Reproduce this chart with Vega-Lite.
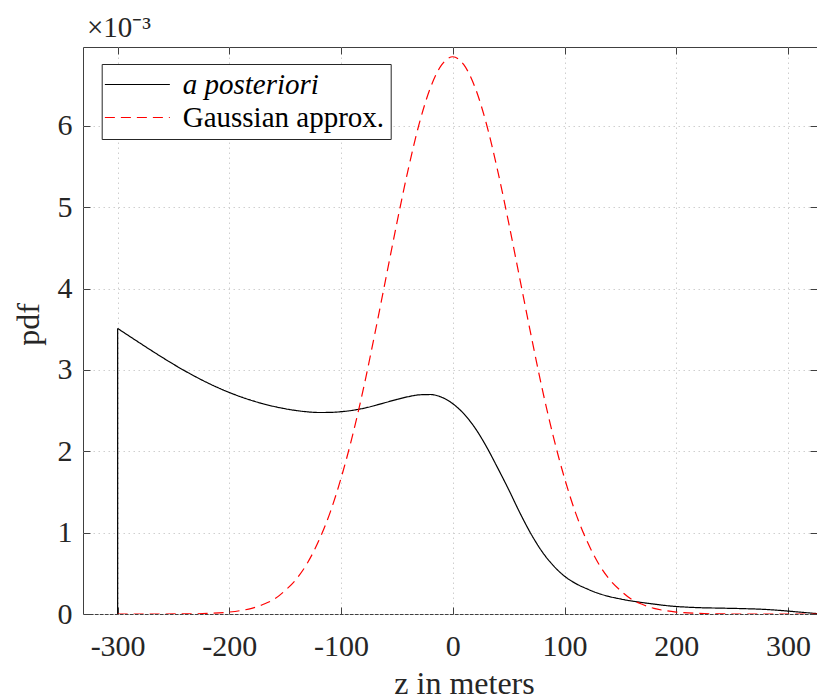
{
  "$schema": "https://vega.github.io/schema/vega-lite/v6.json",
  "width": 734,
  "height": 567,
  "autosize": {"type": "none"},
  "padding": {"left": 83, "top": 47, "right": 0, "bottom": 86},
  "background": "white",
  "config": {
    "view": {"stroke": "#404040", "strokeWidth": 1},
    "font": "Liberation Serif"
  },
  "title": {
    "text": "×10⁻³",
    "anchor": "start",
    "frame": "group",
    "fontSize": 29,
    "font": "Liberation Serif",
    "fontWeight": "normal",
    "color": "#262626",
    "baseline": "alphabetic",
    "offset": -19,
    "dx": 4
  },
  "datasets": {
    "post": [
      {"z": -300, "pdf": 3.51}, {"z": -290, "pdf": 3.42}, {"z": -280, "pdf": 3.33},
      {"z": -270, "pdf": 3.241}, {"z": -260, "pdf": 3.154}, {"z": -250, "pdf": 3.07},
      {"z": -240, "pdf": 2.99}, {"z": -230, "pdf": 2.915}, {"z": -220, "pdf": 2.845},
      {"z": -210, "pdf": 2.781}, {"z": -200, "pdf": 2.723}, {"z": -190, "pdf": 2.671},
      {"z": -180, "pdf": 2.625}, {"z": -170, "pdf": 2.585}, {"z": -160, "pdf": 2.551},
      {"z": -150, "pdf": 2.523}, {"z": -140, "pdf": 2.501}, {"z": -130, "pdf": 2.485},
      {"z": -120, "pdf": 2.477}, {"z": -110, "pdf": 2.478}, {"z": -100, "pdf": 2.487},
      {"z": -90, "pdf": 2.503}, {"z": -80, "pdf": 2.528}, {"z": -70, "pdf": 2.562},
      {"z": -60, "pdf": 2.600}, {"z": -50, "pdf": 2.638}, {"z": -40, "pdf": 2.671},
      {"z": -30, "pdf": 2.694}, {"z": -20, "pdf": 2.698}, {"z": -10, "pdf": 2.665},
      {"z": 0, "pdf": 2.585}, {"z": 10, "pdf": 2.46}, {"z": 20, "pdf": 2.285},
      {"z": 30, "pdf": 2.06}, {"z": 40, "pdf": 1.80}, {"z": 50, "pdf": 1.53},
      {"z": 60, "pdf": 1.245}, {"z": 70, "pdf": 0.985}, {"z": 80, "pdf": 0.765},
      {"z": 90, "pdf": 0.595}, {"z": 100, "pdf": 0.465}, {"z": 110, "pdf": 0.375},
      {"z": 120, "pdf": 0.31}, {"z": 130, "pdf": 0.255}, {"z": 140, "pdf": 0.215},
      {"z": 150, "pdf": 0.185}, {"z": 160, "pdf": 0.16}, {"z": 170, "pdf": 0.14},
      {"z": 180, "pdf": 0.122}, {"z": 190, "pdf": 0.105}, {"z": 200, "pdf": 0.092},
      {"z": 210, "pdf": 0.084}, {"z": 220, "pdf": 0.078}, {"z": 240, "pdf": 0.072},
      {"z": 260, "pdf": 0.066}, {"z": 280, "pdf": 0.056}, {"z": 290, "pdf": 0.047},
      {"z": 300, "pdf": 0.036}, {"z": 310, "pdf": 0.024}, {"z": 320, "pdf": 0.012},
      {"z": 326, "pdf": 0.005}
    ],
    "edge": [
      {"z": -300, "lo": 0, "hi": 3.51}
    ],
    "gauss": [
      {"z": -300, "pdf": 0}, {"z": -280, "pdf": 0}, {"z": -260, "pdf": 0},
      {"z": -240, "pdf": 0.001}, {"z": -220, "pdf": 0.007}, {"z": -200, "pdf": 0.024},
      {"z": -190, "pdf": 0.042}, {"z": -180, "pdf": 0.07}, {"z": -170, "pdf": 0.116},
      {"z": -160, "pdf": 0.18}, {"z": -150, "pdf": 0.29}, {"z": -140, "pdf": 0.43},
      {"z": -130, "pdf": 0.63}, {"z": -120, "pdf": 0.90}, {"z": -110, "pdf": 1.24},
      {"z": -100, "pdf": 1.67}, {"z": -90, "pdf": 2.18}, {"z": -80, "pdf": 2.77},
      {"z": -70, "pdf": 3.43}, {"z": -60, "pdf": 4.12}, {"z": -50, "pdf": 4.81},
      {"z": -40, "pdf": 5.46}, {"z": -30, "pdf": 6.03}, {"z": -20, "pdf": 6.47},
      {"z": -10, "pdf": 6.75}, {"z": 0, "pdf": 6.85}, {"z": 10, "pdf": 6.75},
      {"z": 20, "pdf": 6.47}, {"z": 30, "pdf": 6.03}, {"z": 40, "pdf": 5.46},
      {"z": 50, "pdf": 4.81}, {"z": 60, "pdf": 4.12}, {"z": 70, "pdf": 3.43},
      {"z": 80, "pdf": 2.77}, {"z": 90, "pdf": 2.18}, {"z": 100, "pdf": 1.67},
      {"z": 110, "pdf": 1.24}, {"z": 120, "pdf": 0.90}, {"z": 130, "pdf": 0.63},
      {"z": 140, "pdf": 0.43}, {"z": 150, "pdf": 0.29}, {"z": 160, "pdf": 0.18},
      {"z": 170, "pdf": 0.116}, {"z": 180, "pdf": 0.07}, {"z": 190, "pdf": 0.042},
      {"z": 200, "pdf": 0.024}, {"z": 220, "pdf": 0.007}, {"z": 240, "pdf": 0.001},
      {"z": 260, "pdf": 0}, {"z": 280, "pdf": 0}, {"z": 300, "pdf": 0},
      {"z": 326, "pdf": 0}
    ]
  },
  "resolve": {"axis": {"x": "independent", "y": "independent"}},
  "layer": [
    {
      "data": {"name": "post"},
      "transform": [{"calculate": "'a posteriori'", "as": "series"}],
      "mark": {"type": "line", "strokeWidth": 1.2, "interpolate": "monotone", "clip": true},
      "encoding": {
        "x": {
          "field": "z", "type": "quantitative",
          "scale": {"domain": [-331, 326], "nice": false, "zero": false},
          "axis": {
            "orient": "bottom",
            "values": [-300, -200, -100, 0, 100, 200, 300],
            "labelExpr": "datum.value < 0 ? '-' + abs(datum.value) : '' + datum.value",
            "tickSize": -7, "tickColor": "#404040", "tickWidth": 1,
            "labelPadding": 24, "labelFontSize": 30, "labelColor": "#262626",
            "labelFont": "Liberation Serif", "labelFlush": false,
            "domain": false,
            "grid": true, "gridColor": "#cfcfcf", "gridDash": [1.5, 3.5], "gridWidth": 1,
            "title": "z in meters", "titleFontSize": 32, "titleFontWeight": "normal",
            "titleFont": "Liberation Serif", "titleColor": "#262626",
            "titleX": 381, "titleY": 79, "titleBaseline": "alphabetic", "titleAlign": "center"
          }
        },
        "y": {
          "field": "pdf", "type": "quantitative",
          "scale": {"domain": [0, 6.97], "nice": false, "zero": false},
          "axis": {
            "orient": "left",
            "values": [0, 1, 2, 3, 4, 5, 6],
            "tickSize": -7, "tickColor": "#404040", "tickWidth": 1,
            "labelPadding": 18, "labelFontSize": 30, "labelColor": "#262626",
            "labelFont": "Liberation Serif", "labelFlush": false,
            "domain": false,
            "grid": true, "gridColor": "#cfcfcf", "gridDash": [1.5, 3.5], "gridWidth": 1,
            "title": "pdf", "titleFontSize": 32, "titleFontWeight": "normal",
            "titleFont": "Liberation Serif", "titleColor": "#262626",
            "titleX": -45, "titleY": 277, "titleAngle": 270,
            "titleBaseline": "alphabetic", "titleAlign": "center"
          }
        },
        "stroke": {
          "field": "series", "type": "nominal",
          "scale": {"domain": ["a posteriori", "Gaussian approx."], "range": ["#000000", "#ff0000"]},
          "legend": {
            "orient": "none", "legendX": 18.7, "legendY": 17, "title": null,
            "symbolType": "M-1.6,0H4.4", "symbolSize": 469, "symbolStrokeWidth": 1.2,
            "labelFontSize": 29, "labelFont": "Liberation Serif", "labelColor": "#000000",
            "labelOffset": 46, "padding": 6, "rowPadding": 3, "labelLimit": 400,
            "strokeColor": "#262626", "fillColor": "white",
            "encode": {
              "labels": {"update": {"fontStyle": {"signal": "datum.label === 'a posteriori' ? 'italic' : 'normal'"}}},
              "symbols": {"update": {
                "stroke": {"signal": "datum.label === 'Gaussian approx.' ? '#ff0000' : '#000000'"},
                "strokeDash": {"signal": "datum.label === 'Gaussian approx.' ? [10, 6] : [1, 0]"}
              }}
            }
          }
        },
        "strokeDash": {
          "field": "series", "type": "nominal",
          "scale": {"domain": ["a posteriori", "Gaussian approx."], "range": [[1, 0], [10, 6]]},
          "legend": null
        }
      }
    },
    {
      "data": {"name": "edge"},
      "mark": {"type": "rule", "strokeWidth": 1.2, "color": "#000000"},
      "encoding": {
        "x": {"field": "z", "type": "quantitative", "axis": null},
        "y": {"field": "lo", "type": "quantitative", "axis": null},
        "y2": {"field": "hi"}
      }
    },
    {
      "data": {"name": "gauss"},
      "transform": [{"calculate": "'Gaussian approx.'", "as": "series"}],
      "mark": {"type": "line", "strokeWidth": 1.2, "interpolate": "monotone", "clip": true},
      "encoding": {
        "x": {
          "field": "z", "type": "quantitative",
          "axis": {
            "orient": "top",
            "values": [-300, -200, -100, 0, 100, 200, 300],
            "tickSize": -7, "tickColor": "#404040", "tickWidth": 1,
            "labels": false, "domain": false, "grid": false, "title": null
          }
        },
        "y": {
          "field": "pdf", "type": "quantitative",
          "axis": {
            "orient": "right",
            "values": [0, 1, 2, 3, 4, 5, 6],
            "tickSize": -7, "tickColor": "#404040", "tickWidth": 1,
            "labels": false, "domain": false, "grid": false, "title": null
          }
        },
        "stroke": {"field": "series", "type": "nominal"},
        "strokeDash": {"field": "series", "type": "nominal", "legend": null}
      }
    }
  ]
}
